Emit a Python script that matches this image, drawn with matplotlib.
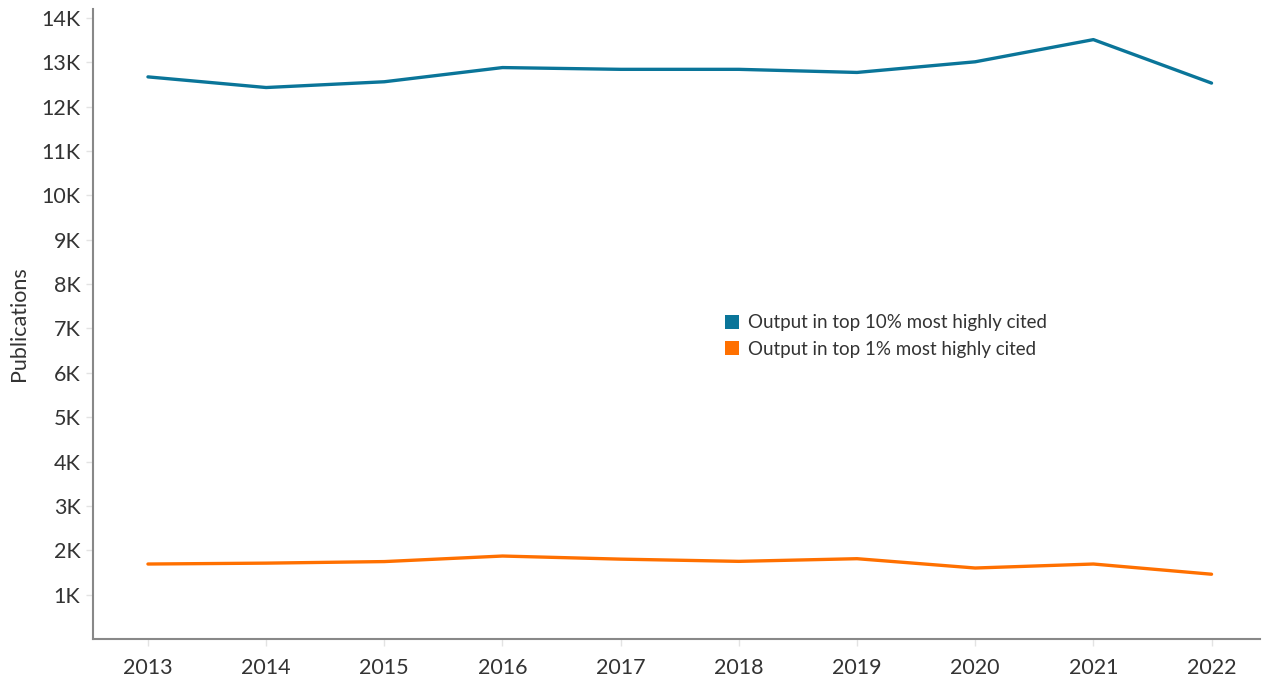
import matplotlib.pyplot as plt
from matplotlib.patches import Patch
from matplotlib.ticker import FuncFormatter

years = [2013, 2014, 2015, 2016, 2017, 2018, 2019, 2020, 2021, 2022]
top10 = [12670, 12430, 12560, 12880, 12840, 12840, 12770, 13010, 13510, 12530]
top1 = [1690, 1710, 1745, 1870, 1800, 1750, 1810, 1600, 1690, 1460]
series_labels = ['Output in top 10% most highly cited', 'Output in top 1% most highly cited']
colors = ['#0a7599', '#ff7000']

plt.rcParams['font.family'] = ['Lato', 'DejaVu Sans']

fig = plt.figure(figsize=(12.62, 6.82), dpi=100)
ax = fig.add_axes([93 / 1262, 43 / 682, 1167 / 1262, 630 / 682])

ax.plot(years, top10, color=colors[0], lw=2.4, solid_capstyle='round')
ax.plot(years, top1, color=colors[1], lw=2.4, solid_capstyle='round')

ax.set_xlim(2012.535, 2022.41)
ax.set_ylim(0, 14200)
ax.set_xticks(years)
ax.set_yticks(range(1000, 15000, 1000))
ax.yaxis.set_major_formatter(FuncFormatter(lambda v, p: f'{int(v / 1000)}K'))

for side in ['top', 'right']:
    ax.spines[side].set_visible(False)
for side in ['left', 'bottom']:
    ax.spines[side].set_color('#888888')
    ax.spines[side].set_linewidth(1.5)

ax.tick_params(axis='both', colors='#e3e3e3', labelcolor='#333333', labelsize=15.5, length=5, width=1)
ax.tick_params(axis='x', pad=9)
ax.tick_params(axis='y', pad=4)

ax.set_ylabel('Publications', fontsize=15.5, color='#333333', labelpad=9)

# square legend markers
handles = [Patch(facecolor=c) for c in colors]
ax.legend(handles, series_labels, loc='center left', bbox_to_anchor=(0.527, 0.481), frameon=False,
          fontsize=13.5, handlelength=0.75, handleheight=0.75, handletextpad=0.5, labelspacing=0.5,
          labelcolor='#333333')

fig.savefig('out.png', dpi=100)
